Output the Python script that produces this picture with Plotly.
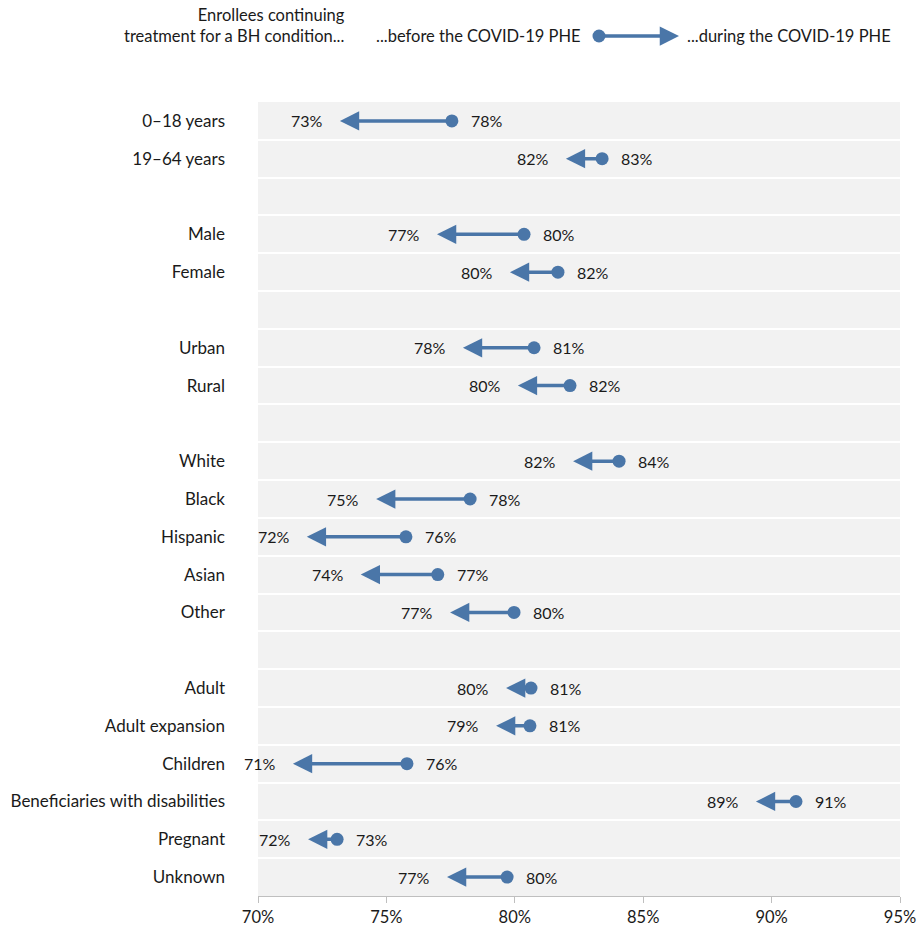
import plotly.graph_objects as go

categories = ["0–18 years", "19–64 years", "",
              "Male", "Female", " ",
              "Urban", "Rural", "  ",
              "White", "Black", "Hispanic", "Asian", "Other", "   ",
              "Adult", "Adult expansion", "Children",
              "Beneficiaries with disabilities", "Pregnant", "Unknown"]
before = [77.55, 83.4, None,
          80.36, 81.68, None,
          80.75, 82.15, None,
          84.06, 78.26, 75.76, 77.0, 79.97, None,
          80.63, 80.59, 75.8, 90.95, 73.08, 79.7]
during = [73.19, 81.99, None,
          76.97, 79.81, None,
          77.98, 80.12, None,
          82.27, 74.6, 71.9, 74.0, 77.48, None,
          79.66, 79.27, 71.36, 89.39, 71.95, 77.36]
x_ticks = [70, 75, 80, 85, 90, 95]
x_ticktext = ["70%", "75%", "80%", "85%", "90%", "95%"]

C = "#4a76a8"
FONT = "Lato"
TXT = "#1a1a1a"
FS = 16.5
VS = 16

rows = list(range(len(categories)))
fig = go.Figure()

bx = [b for b in before if b is not None]
by = [i for i, b in zip(rows, before) if b is not None]
fig.add_trace(go.Scatter(x=bx, y=by, mode="markers",
                         marker=dict(color=C, size=13, line=dict(width=0)),
                         hoverinfo="skip", showlegend=False))

ann = []
for i, b, d in zip(rows, before, during):
    if b is None:
        continue
    ann.append(dict(x=d, y=i, ax=b, ay=i, xref="x", yref="y", axref="x", ayref="y",
                    showarrow=True, arrowhead=2, arrowsize=1.1, arrowwidth=3.5,
                    arrowcolor=C, standoff=0, text=""))
    ann.append(dict(x=b, y=i, xref="x", yref="y", text=f"{round(b)}%", showarrow=False,
                    xanchor="left", xshift=17, font=dict(family=FONT, size=VS, color=TXT)))
    ann.append(dict(x=d, y=i, xref="x", yref="y", text=f"{round(d)}%", showarrow=False,
                    xanchor="right", xshift=-15, font=dict(family=FONT, size=VS, color=TXT)))

# legend header
L, W, T, H = 258, 642, 102, 794
def px(xp):
    return (xp - L) / W
def py(yp):
    return 1 + (T - yp) / H

ann.append(dict(x=px(347), y=py(25.5), xref="paper", yref="paper", showarrow=False,
                text="Enrollees continuing<br>treatment for a BH condition...",
                xanchor="right", yanchor="middle", align="right",
                font=dict(family=FONT, size=FS, color=TXT)))
ann.append(dict(x=px(583), y=py(36), xref="paper", yref="paper", showarrow=False,
                text="...before the COVID-19 PHE", xanchor="right", yanchor="middle",
                font=dict(family=FONT, size=FS, color=TXT)))
ann.append(dict(x=px(685), y=py(36), xref="paper", yref="paper", showarrow=False,
                text="...during the COVID-19 PHE", xanchor="left", yanchor="middle",
                font=dict(family=FONT, size=FS, color=TXT)))
ann.append(dict(x=px(679), y=py(36), xref="paper", yref="paper", ax=-80, ay=0,
                showarrow=True, arrowhead=2, arrowsize=1.1, arrowwidth=3.5,
                arrowcolor=C, standoff=0, text=""))

shapes = [dict(type="circle", xref="paper", yref="paper", xsizemode="pixel", ysizemode="pixel",
               xanchor=px(599), yanchor=py(36), x0=-6.5, x1=6.5, y0=-6.5, y1=6.5,
               fillcolor=C, line=dict(width=0))]

fig.update_layout(
    width=918, height=926, autosize=False,
    margin=dict(l=L, r=918 - L - W, t=T, b=926 - T - H, autoexpand=False),
    paper_bgcolor="white", plot_bgcolor="#f2f2f2",
    annotations=ann, shapes=shapes,
    font=dict(family=FONT, size=FS, color=TXT),
    xaxis=dict(range=[70, 95], tickvals=x_ticks, ticktext=x_ticktext, automargin=False,
               showgrid=False, zeroline=False, showline=True, linecolor="#bfbfbf",
               linewidth=1, ticks="outside", ticklen=6, tickcolor="#bfbfbf",
               tickfont=dict(family=FONT, size=FS, color=TXT)),
    yaxis=dict(range=[len(categories) - 0.5, -0.5], tickvals=rows, ticktext=categories,
               automargin=False,
               showgrid=False, zeroline=False, showline=False, ticks="",
               ticklabelstandoff=32,
               tickfont=dict(family=FONT, size=17, color=TXT),
               minor=dict(tickvals=[r + 0.5 for r in rows[:-1]], showgrid=True,
                          gridcolor="white", gridwidth=2, ticks="")),
)

fig.write_html("out.html")
